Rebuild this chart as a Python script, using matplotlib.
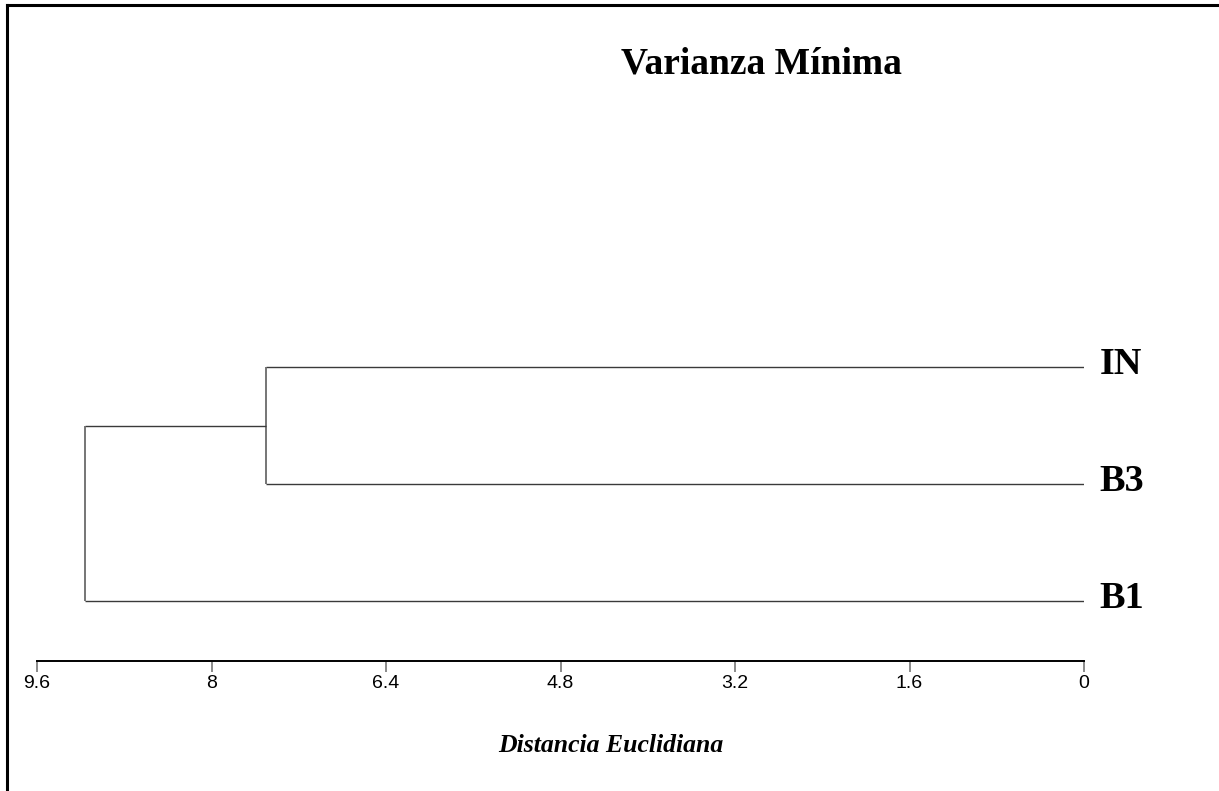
import matplotlib
matplotlib.use("Agg")
import matplotlib.pyplot as plt
from matplotlib.lines import Line2D

# Data
leaf_labels = ["B1", "B3", "IN"]          # bottom to top
merge_left = ["IN", "IN+B3"]
merge_right = ["B3", "B1"]
merge_heights = [7.50, 9.16]
tick_values = [9.6, 8, 6.4, 4.8, 3.2, 1.6, 0]
tick_labels = ["9.6", "8", "6.4", "4.8", "3.2", "1.6", "0"]

W, H = 1219, 791
fig = plt.figure(figsize=(W / 100, H / 100), dpi=100)
fig.patch.set_facecolor("white")

# frame lines (left and top)
fig.add_artist(Line2D([6.5 / W, 6.5 / W], [0, 1 - 4.5 / H], transform=fig.transFigure,
                      color="black", lw=2.2))
fig.add_artist(Line2D([6.5 / W, 1], [1 - 4.5 / H, 1 - 4.5 / H], transform=fig.transFigure,
                      color="black", lw=2.2))

ax_left, ax_right = 37 / W, 1084 / W
ax_bottom, ax_top = 1 - 661 / H, 1 - 300 / H
ax = fig.add_axes([ax_left, ax_bottom, ax_right - ax_left, ax_top - ax_bottom])
ax.set_xlim(9.6, 0)
ax.set_ylim(-60 / 117, (601 - 300) / 117)

# positions of nodes
pos = {lab: float(i) for i, lab in enumerate(leaf_labels)}
height = {lab: 0.0 for lab in leaf_labels}
hc, vc = "#3a3a3a", "#6a6a6a"
for a, b, h in zip(merge_left, merge_right, merge_heights):
    ya, yb = pos[a], pos[b]
    ax.plot([height[a], h], [ya, ya], color=hc, lw=1.0, solid_capstyle="butt")
    ax.plot([height[b], h], [yb, yb], color=hc, lw=1.0, solid_capstyle="butt")
    ax.plot([h, h], [ya, yb], color=vc, lw=1.3, solid_capstyle="butt")
    name = a + "+" + b
    pos[name] = (ya + yb) / 2
    height[name] = h

# leaf labels
for lab in leaf_labels:
    ax.annotate(lab, xy=(0, pos[lab]), xycoords="data",
                xytext=(11, -4.8), textcoords="offset points",
                ha="left", va="baseline", fontsize=27.5, fontweight="bold",
                family="Liberation Serif", annotation_clip=False)

for s in ["top", "right", "left"]:
    ax.spines[s].set_visible(False)
ax.spines["bottom"].set_color("black")
ax.spines["bottom"].set_linewidth(1.4)
ax.set_yticks([])
ax.set_xticks(tick_values)
ax.set_xticklabels(tick_labels, family="Liberation Sans", fontsize=14)
ax.tick_params(axis="x", direction="out", length=8, width=1.2, color="#777777", pad=2)
ax.patch.set_alpha(0)

fig.text(761 / W, 1 - 73 / H, "Varianza Mínima", ha="center", va="baseline",
         fontsize=27, fontweight="bold", family="Liberation Serif")
fig.text(611 / W, 1 - 752 / H, "Distancia Euclidiana", ha="center", va="baseline",
         fontsize=18.5, fontweight="bold", fontstyle="italic", family="Liberation Serif")

fig.savefig("out.png", dpi=100)
